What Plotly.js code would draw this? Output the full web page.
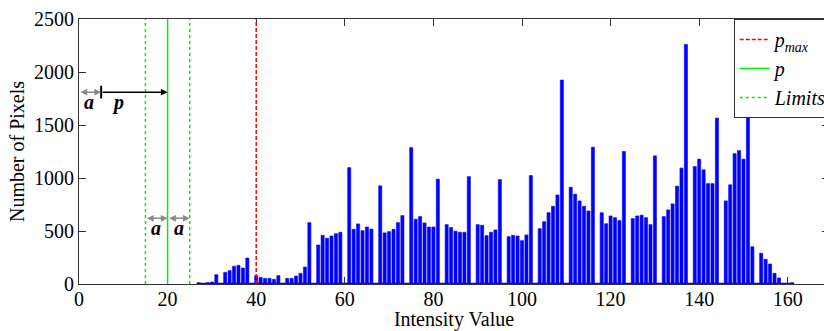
<!DOCTYPE html>
<html>
<head>
<meta charset="utf-8">
<script src="https://cdn.plot.ly/plotly-3.0.1.min.js"></script>
<style>
html, body { margin:0; padding:0; overflow:hidden; background:#fff; }
#chart { width:880px; height:331px; }
</style>
</head>
<body>
<div id="chart"></div>
<script>
// Histogram data: intensity value -> number of pixels
const intensity = [27,29,30,31,33,34,35,36,37,38,40,41,42,43,44,45,47,48,49,50,51,52,
  54,55,56,57,58,59,61,62,63,64,65,66,68,69,70,71,72,73,75,76,77,78,79,80,81,
  83,84,85,86,87,88,90,91,92,93,94,95,97,98,99,100,101,102,104,105,106,107,108,109,
  111,112,113,114,115,116,118,119,120,121,122,123,125,126,127,128,129,130,
  132,133,134,135,136,137,139,140,141,142,143,144,146,147,148,149,150,151,152,
  154,155,156,157,158,161];
const pixels = [12,12,19,88,110,126,167,176,151,245,79,63,53,53,44,79,53,53,75,101,160,579,
  368,459,431,453,475,488,1098,516,567,503,538,519,926,482,494,516,579,645,1287,611,636,576,538,538,989,
  560,532,498,488,488,1013,560,554,456,488,510,985,447,459,453,409,463,1023,522,588,673,733,840,1924,
  913,847,784,733,689,1291,673,569,642,626,598,1250,617,642,649,626,560,1209,
  636,699,756,923,1093,2260,1108,1178,1077,947,947,1565,784,936,1230,1259,1178,1618,352,
  290,233,189,101,57,12];

// Marker lines
const pMax = 40;
const pVal = 20;
const aVal = 5;
const limits = [pVal - aVal, pVal + aVal];

const xTicks = [0,20,40,60,80,100,120,140,160];
const yTicks = [0,500,1000,1500,2000,2500];
const yMax = 2500;

const serif = 'Liberation Serif';

const traces = [
  {
    type: 'bar', x: intensity, y: pixels, width: 0.7,
    marker: {color: '#0000FF', line: {color: '#0000FF', width: 0.6}},
    showlegend: false, hoverinfo: 'x+y'
  },
  {
    type: 'scatter', mode: 'lines',
    x: [intensity[0] - 0.4, intensity[intensity.length - 1] + 0.4], y: [0, 0],
    line: {color: '#0000FF', width: 2.5}, showlegend: false, cliponaxis: false, hoverinfo: 'skip'
  },
  {
    type: 'scatter', mode: 'lines', name: '<i>p</i><sub><i>max</i></sub>',
    x: [pMax, pMax], y: [0, yMax],
    line: {color: '#FF0000', width: 1.5, dash: '4px,2px'}
  },
  {
    type: 'scatter', mode: 'lines', name: '<i>p</i>',
    x: [pVal, pVal], y: [0, yMax],
    line: {color: '#00EE00', width: 1.5}
  },
  {
    type: 'scatter', mode: 'lines', name: '<i>Limits</i>',
    x: [limits[0], limits[0], null, limits[1], limits[1]], y: [0, yMax, null, 0, yMax],
    line: {color: '#00EE00', width: 1.5, dash: 'dot'}
  }
];

const yArrowTop = 1810;
const yArrowLow = 620;
const grey = '#8a8a8a';

function dblArrow(x0, x1, y) {
  return {
    x: x1, y: y, ax: x0, ay: y, xref: 'x', yref: 'y', axref: 'x', ayref: 'y',
    text: '', showarrow: true, arrowhead: 2, startarrowhead: 2, arrowside: 'end+start',
    arrowsize: 0.9, startarrowsize: 0.9, arrowwidth: 1.5, arrowcolor: grey, standoff: 0, startstandoff: 0
  };
}
function label(txt, x, y) {
  return {
    x: x, y: y, xref: 'x', yref: 'y', text: '<b><i>' + txt + '</i></b>', showarrow: false,
    font: {family: serif, size: 20, color: '#000'}
  };
}

const annotations = [
  dblArrow(0, aVal, yArrowTop),
  {
    x: pVal, y: yArrowTop, ax: aVal, ay: yArrowTop, xref: 'x', yref: 'y', axref: 'x', ayref: 'y',
    text: '', showarrow: true, arrowhead: 2, arrowsize: 0.9, arrowwidth: 1.5, arrowcolor: '#000', standoff: 0
  },
  dblArrow(limits[0], pVal, yArrowLow),
  dblArrow(pVal, limits[1], yArrowLow),
  label('a', 2.3, 1715),
  label('p', 8.8, 1715),
  label('a', 17.4, 530),
  label('a', 22.6, 530)
];

const shapes = [
  {type: 'line', xref: 'x', yref: 'y', x0: aVal, x1: aVal, y0: yArrowTop - 60, y1: yArrowTop + 60,
   line: {color: '#000', width: 2}}
];

const axisCommon = {
  ticks: 'inside', ticklen: 7, tickwidth: 1, tickcolor: '#333',
  showline: true, linecolor: '#333', linewidth: 1, mirror: 'ticks',
  showgrid: false, zeroline: false, layer: 'below traces', automargin: false,
  tickfont: {family: serif, size: 20, color: '#000'}
};

const layout = {
  width: 880, height: 331,
  margin: {l: 79, r: 51, t: 19, b: 47, pad: 0},
  paper_bgcolor: '#fff', plot_bgcolor: '#fff',
  font: {family: serif, size: 20, color: '#000'},
  bargap: 0,
  xaxis: Object.assign({}, axisCommon, {
    range: [0, 169.3], tickmode: 'array', tickvals: xTicks, ticktext: xTicks.map(String),
    ticklabelstandoff: -3,
    title: {text: 'Intensity Value', font: {family: serif, size: 20, color: '#000'}, standoff: 2}
  }),
  yaxis: Object.assign({}, axisCommon, {
    range: [0, yMax], tickmode: 'array', tickvals: yTicks, ticktext: yTicks.map(String),
    title: {text: 'Number of Pixels', font: {family: serif, size: 20, color: '#000'}, standoff: 4}
  }),
  showlegend: true,
  legend: {
    x: 0.873, y: 1, xanchor: 'left', yanchor: 'top',
    bgcolor: '#fff', bordercolor: '#333', borderwidth: 1,
    font: {family: serif, size: 20, color: '#000'}, tracegroupgap: 0
  },
  annotations: annotations,
  shapes: shapes
};

Plotly.newPlot('chart', traces, layout, {displayModeBar: false, staticPlot: true});
</script>
</body>
</html>
